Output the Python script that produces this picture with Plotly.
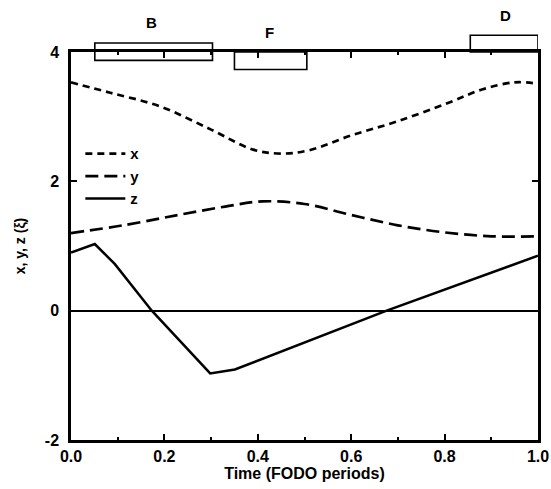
import plotly.graph_objects as go

# ---- data ----
t_x = [0.0, 0.084, 0.19, 0.30, 0.39, 0.45, 0.51, 0.60, 0.70, 0.81, 0.88, 0.95, 1.0]
x_vals = [3.53, 3.37, 3.16, 2.80, 2.49, 2.43, 2.48, 2.71, 2.93, 3.22, 3.42, 3.53, 3.51]

t_y = [0.0, 0.12, 0.23, 0.33, 0.41, 0.50, 0.60, 0.70, 0.80, 0.90, 1.0]
y_vals = [1.20, 1.33, 1.48, 1.61, 1.69, 1.65, 1.48, 1.32, 1.21, 1.15, 1.15]

t_z = [0.0, 0.051, 0.094, 0.173, 0.298, 0.351, 0.676, 1.0]
z_vals = [0.90, 1.03, 0.72, 0.0, -0.97, -0.91, 0.0, 0.85]

# lattice elements: name, start, end, bottom, top
elem_names = ["B", "F", "D"]
elem_start = [0.051, 0.35, 0.855]
elem_end = [0.303, 0.505, 1.0]
elem_bottom = [3.87, 3.73, 4.0]
elem_top = [4.14, 4.0, 4.26]
label_x = [0.173, 0.426, 0.93]
label_y = [4.46, 4.30, 4.56]

x_ticks = [0.0, 0.2, 0.4, 0.6, 0.8, 1.0]
x_tick_labels = ["0.0", "0.2", "0.4", "0.6", "0.8", "1.0"]
y_ticks = [-2, 0, 2, 4]
y_tick_labels = ["-2", "0", "2", "4"]
x_range = [0.0, 1.0]
y_range = [-2.0, 4.0]

FONT = "Liberation Sans"

fig = go.Figure()
fig.add_trace(go.Scatter(x=t_x, y=x_vals, mode="lines", name="x",
                         line=dict(color="black", width=2.7, dash="7px,5px",
                                   shape="spline", smoothing=1.0)))
fig.add_trace(go.Scatter(x=t_y, y=y_vals, mode="lines", name="y",
                         line=dict(color="black", width=2.7, dash="13px,6px",
                                   shape="spline", smoothing=1.0)))
fig.add_trace(go.Scatter(x=t_z, y=z_vals, mode="lines", name="z",
                         line=dict(color="black", width=2.5)))


def to_paper(v):
    return (v - y_range[0]) / (y_range[1] - y_range[0])


for n, x0, x1, b, tp, lx, ly in zip(elem_names, elem_start, elem_end,
                                     elem_bottom, elem_top, label_x, label_y):
    fig.add_shape(type="rect", xref="x", yref="paper",
                  x0=x0, x1=x1, y0=to_paper(b), y1=to_paper(tp),
                  line=dict(color="black", width=1.6), fillcolor="rgba(0,0,0,0)")
    fig.add_annotation(x=lx, y=to_paper(ly), xref="x", yref="paper", text=n,
                       showarrow=False, xanchor="center", yanchor="middle",
                       font=dict(family=FONT, size=15, color="black", weight="bold"))

axis_common = dict(showline=True, linecolor="black", linewidth=2.5, mirror="ticks",
                   ticks="inside", ticklen=6, tickwidth=1.5, tickcolor="black",
                   showgrid=False, automargin=False,
                   tickfont=dict(family=FONT, size=16, color="black", weight="bold"))

fig.update_xaxes(range=x_range, tickvals=x_ticks, ticktext=x_tick_labels,
                 title=dict(text="Time (FODO periods)", standoff=0,
                            font=dict(family=FONT, size=16, color="black", weight="bold")),
                 zeroline=False,
                 minor=dict(dtick=0.1, ticks="inside", ticklen=3, tickcolor="black"),
                 ticklabelstandoff=0,
                 **axis_common)
fig.update_yaxes(range=y_range, tickvals=y_ticks, ticktext=y_tick_labels,
                 title=dict(text="x, y, z (ξ)", standoff=16,
                            font=dict(family=FONT, size=14, color="black", weight="bold")),
                 zeroline=True, zerolinecolor="black", zerolinewidth=2,
                 ticklabelstandoff=6,
                 **axis_common)

fig.update_layout(
    width=551, height=489,
    margin=dict(l=71, r=13, t=52, b=49),
    paper_bgcolor="white", plot_bgcolor="white",
    font=dict(family=FONT, color="black"),
    showlegend=True,
    legend=dict(x=0.02, y=0.78, xanchor="left", yanchor="top",
                bgcolor="rgba(0,0,0,0)", tracegroupgap=0, itemwidth=40,
                font=dict(family=FONT, size=15, color="black", weight="bold")),
)

fig.write_html("out.html", config={"displayModeBar": False},
               post_script="document.body.style.margin='0px';document.body.style.overflow='hidden';")
